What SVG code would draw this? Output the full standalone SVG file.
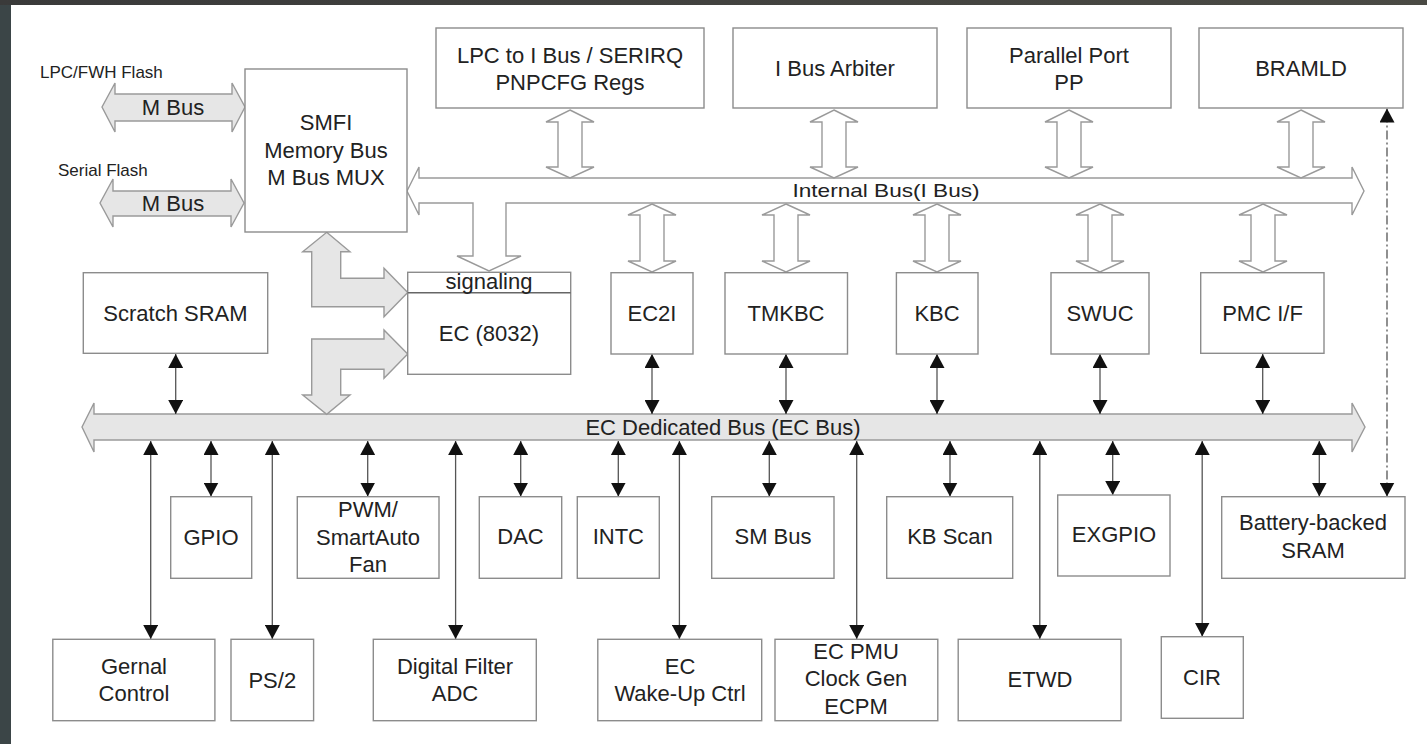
<svg xmlns="http://www.w3.org/2000/svg" width="1427" height="744" viewBox="0 0 1427 744">
<defs>
<linearGradient id="topg" x1="0" y1="0" x2="1" y2="0">
<stop offset="0" stop-color="#3a3a3a"/><stop offset="1" stop-color="#4a4a44"/>
</linearGradient>
<marker id="ah" viewBox="0 0 14 15" refX="14" refY="7.5" markerWidth="14" markerHeight="15" markerUnits="userSpaceOnUse" orient="auto-start-reverse"><path d="M0,0 L14,7.5 L0,15 z" fill="#111"/></marker>
<style>
.box{fill:#fff;stroke:#8c8c8c;stroke-width:1.4}
.t{font-family:"Liberation Sans",Arial,Helvetica,sans-serif;font-size:22px;fill:#222;text-anchor:middle}
.s{font-family:"Liberation Sans",Arial,Helvetica,sans-serif;font-size:17px;fill:#222}
.gbus{fill:#e6e6e6;stroke:#9a9a9a;stroke-width:1.4;stroke-linejoin:miter}
.hbus{fill:#fff;stroke:#9a9a9a;stroke-width:1.4}
.ln{stroke:#555;stroke-width:1.3;fill:none;marker-start:url(#ah);marker-end:url(#ah)}
.dash{stroke:#555;stroke-width:1.3;fill:none;stroke-dasharray:9 3 2 3;marker-start:url(#ah);marker-end:url(#ah)}
</style>
</defs>
<rect x="0" y="0" width="1427" height="744" fill="#3b4547"/>
<rect x="0" y="0" width="1427" height="5" fill="url(#topg)"/>
<rect x="11" y="5" width="1416" height="739" fill="#fff"/>

<g id="buses">
<polygon id="ibus" class="hbus" points="407,191 419,167 419,178 1352,178 1352,167 1364,191 1352,215 1352,203 506,203 506,256 521,256 489,271 457,256 473,256 473,203 419,203 419,215"/>
<text class="t" x="886" y="197" style="font-size:18.5px" textLength="187" lengthAdjust="spacingAndGlyphs">Internal Bus(I Bus)</text>
<polygon id="ecbus" class="gbus" points="82,427 94,403 94,414 1352,414 1352,403 1365,427 1352,452 1352,440 94,440 94,452"/>
<text class="t" x="723" y="434.5">EC Dedicated Bus (EC Bus)</text>
<polygon id="mbus1" class="gbus" points="102,107 115,83 115,94 232,94 232,83 245,107 232,132 232,121 115,121 115,132"/>
<text class="t" x="173" y="115">M Bus</text>
<polygon id="mbus2" class="gbus" points="100,203 113,179 113,191 231,191 231,179 244,203 231,227 231,216 113,216 113,227"/>
<text class="t" x="173" y="211">M Bus</text>
<polygon id="smfi-ec1" class="gbus" points="326.7,232.3 350,251.7 340.7,251.7 340.7,278.3 384,278.3 384,268.3 407.7,292.5 384,316.7 384,306.7 311.7,306.7 311.7,251.7 302.7,251.7"/>
<polygon id="smfi-ec2" class="gbus" points="311.7,339 384,339 384,330 407.7,354 384,378.3 384,369.3 340.7,369.3 340.7,395 350,395 326.7,414.3 302.7,395 311.7,395"/>
</g>

<g id="labels">
<text class="s" x="40" y="78">LPC/FWH Flash</text>
<text class="s" x="58" y="176">Serial Flash</text>
</g>

<g id="connectors">
<polygon class="hbus" points="570,110 594,122 582,122 582,167 594,167 570,178 546,167 558,167 558,122 546,122"/>
<polygon class="hbus" points="834,110 858,122 846,122 846,167 858,167 834,178 810,167 822,167 822,122 810,122"/>
<polygon class="hbus" points="1069,110 1093,122 1081,122 1081,167 1093,167 1069,178 1045,167 1057,167 1057,122 1045,122"/>
<polygon class="hbus" points="1301,110 1325,122 1313,122 1313,167 1325,167 1301,178 1277,167 1289,167 1289,122 1277,122"/>
<polygon class="hbus" points="652,204 676,215 664,215 664,261 676,261 652,272 628,261 640,261 640,215 628,215"/>
<polygon class="hbus" points="786,204 810,215 798,215 798,261 810,261 786,272 762,261 774,261 774,215 762,215"/>
<polygon class="hbus" points="937,204 961,215 949,215 949,261 961,261 937,272 913,261 925,261 925,215 913,215"/>
<polygon class="hbus" points="1100,204 1124,215 1112,215 1112,261 1124,261 1100,272 1076,261 1088,261 1088,215 1076,215"/>
<polygon class="hbus" points="1263,204 1287,215 1275,215 1275,261 1287,261 1263,272 1239,261 1251,261 1251,215 1239,215"/>
<line class="ln" x1="175.7" y1="354" x2="175.7" y2="414"/>
<line class="ln" x1="652" y1="354" x2="652" y2="414"/>
<line class="ln" x1="786" y1="354" x2="786" y2="414"/>
<line class="ln" x1="937" y1="354" x2="937" y2="414"/>
<line class="ln" x1="1100" y1="354" x2="1100" y2="414"/>
<line class="ln" x1="1262.7" y1="354" x2="1262.7" y2="414"/>
<line class="ln" x1="211" y1="441" x2="211" y2="496.5"/>
<line class="ln" x1="367.7" y1="441" x2="367.7" y2="496.5"/>
<line class="ln" x1="520.7" y1="441" x2="520.7" y2="496.5"/>
<line class="ln" x1="618.3" y1="441" x2="618.3" y2="496.5"/>
<line class="ln" x1="769.3" y1="441" x2="769.3" y2="496.5"/>
<line class="ln" x1="950" y1="441" x2="950" y2="496.5"/>
<line class="ln" x1="1112.7" y1="441" x2="1112.7" y2="495"/>
<line class="ln" x1="1319.3" y1="441" x2="1319.3" y2="496.5"/>
<line class="ln" x1="150.7" y1="441" x2="150.7" y2="639"/>
<line class="ln" x1="272.3" y1="441" x2="272.3" y2="639"/>
<line class="ln" x1="455.6" y1="441" x2="455.6" y2="639"/>
<line class="ln" x1="679.4" y1="441" x2="679.4" y2="639"/>
<line class="ln" x1="856.7" y1="441" x2="856.7" y2="639"/>
<line class="ln" x1="1039.8" y1="441" x2="1039.8" y2="639"/>
<line class="ln" x1="1202.2" y1="441" x2="1202.2" y2="636.5"/>
<line class="dash" x1="1387" y1="496.5" x2="1387" y2="108.5"/>
</g>

<g id="smfi"><rect class="box" x="245" y="69" width="162" height="163"/><text class="t" x="326" y="130">SMFI<tspan x="326" y="158">Memory Bus</tspan><tspan x="326" y="185">M Bus MUX</tspan></text></g>
<g id="lpc"><rect class="box" x="436" y="28" width="268" height="80"/><text class="t" x="570" y="63">LPC to I Bus / SERIRQ<tspan x="570" y="90">PNPCFG Regs</tspan></text></g>
<g id="ibusarb"><rect class="box" x="733" y="28" width="204" height="80"/><text class="t" x="835" y="76">I Bus Arbiter</text></g>
<g id="pp"><rect class="box" x="967" y="28" width="204" height="80"/><text class="t" x="1069" y="63">Parallel Port<tspan x="1069" y="90">PP</tspan></text></g>
<g id="bramld"><rect class="box" x="1199" y="28" width="204" height="80"/><text class="t" x="1301" y="76">BRAMLD</text></g>
<g id="scratch"><rect class="box" x="83.3" y="272.7" width="184.4" height="80.6"/><text class="t" x="175.5" y="321">Scratch SRAM</text></g>
<g id="ec8032"><rect class="box" x="407.7" y="272.3" width="163" height="102"/><line x1="407.7" y1="292.7" x2="570.7" y2="292.7" stroke="#666" stroke-width="1.4"/><text class="t" x="489" y="288.5">signaling</text><text class="t" x="489" y="341">EC (8032)</text></g>
<g id="ec2i"><rect class="box" x="611" y="272.7" width="82" height="81.3"/><text class="t" x="652" y="321">EC2I</text></g>
<g id="tmkbc"><rect class="box" x="725" y="272.7" width="122.5" height="81.3"/><text class="t" x="786" y="321">TMKBC</text></g>
<g id="kbc"><rect class="box" x="896.4" y="272.7" width="81.6" height="81.3"/><text class="t" x="937" y="321">KBC</text></g>
<g id="swuc"><rect class="box" x="1051" y="272.7" width="98" height="81.3"/><text class="t" x="1100" y="321">SWUC</text></g>
<g id="pmc"><rect class="box" x="1200.7" y="272.7" width="123.3" height="80.6"/><text class="t" x="1262.5" y="321">PMC I/F</text></g>
<g id="gpio"><rect class="box" x="170.7" y="496.7" width="81" height="81.6"/><text class="t" x="211" y="544.5">GPIO</text></g>
<g id="pwm"><rect class="box" x="297.3" y="496.7" width="141.7" height="81.6"/><text class="t" x="368" y="517">PWM/<tspan x="368" y="544.5">SmartAuto</tspan><tspan x="368" y="572">Fan</tspan></text></g>
<g id="dac"><rect class="box" x="479.3" y="496.7" width="82.4" height="81.6"/><text class="t" x="520.5" y="544">DAC</text></g>
<g id="intc"><rect class="box" x="577.3" y="496.7" width="82" height="81.6"/><text class="t" x="618.3" y="544">INTC</text></g>
<g id="smbus"><rect class="box" x="711.7" y="496.7" width="122.3" height="81.6"/><text class="t" x="773" y="544">SM Bus</text></g>
<g id="kbscan"><rect class="box" x="886.7" y="496.7" width="126" height="81.6"/><text class="t" x="950" y="544">KB Scan</text></g>
<g id="exgpio"><rect class="box" x="1057.7" y="495" width="112.3" height="81"/><text class="t" x="1114" y="542">EXGPIO</text></g>
<g id="bsram"><rect class="box" x="1221.7" y="496.7" width="183.3" height="81.6"/><text class="t" x="1313" y="529.5">Battery-backed<tspan x="1313" y="557.5">SRAM</tspan></text></g>
<g id="gernal"><rect class="box" x="52.8" y="639.3" width="162.1" height="81.4"/><text class="t" x="134" y="673.5">Gernal<tspan x="134" y="701">Control</tspan></text></g>
<g id="ps2"><rect class="box" x="231" y="639.3" width="82.6" height="81.4"/><text class="t" x="272.3" y="687.5">PS/2</text></g>
<g id="dfadc"><rect class="box" x="373.3" y="639.3" width="163" height="81.4"/><text class="t" x="455" y="673.5">Digital Filter<tspan x="455" y="701">ADC</tspan></text></g>
<g id="ecwake"><rect class="box" x="597.8" y="639.3" width="163.9" height="81.4"/><text class="t" x="680" y="673.5">EC<tspan x="680" y="701">Wake-Up Ctrl</tspan></text></g>
<g id="ecpmu"><rect class="box" x="775" y="639.3" width="162.8" height="81.4"/><text class="t" x="856" y="658.5">EC PMU<tspan x="856" y="686">Clock Gen</tspan><tspan x="856" y="713.5">ECPM</tspan></text></g>
<g id="etwd"><rect class="box" x="958.2" y="639.3" width="162.8" height="81.4"/><text class="t" x="1040" y="687">ETWD</text></g>
<g id="cir"><rect class="box" x="1161.3" y="636.7" width="82" height="81.6"/><text class="t" x="1202" y="684.5">CIR</text></g>
</svg>
